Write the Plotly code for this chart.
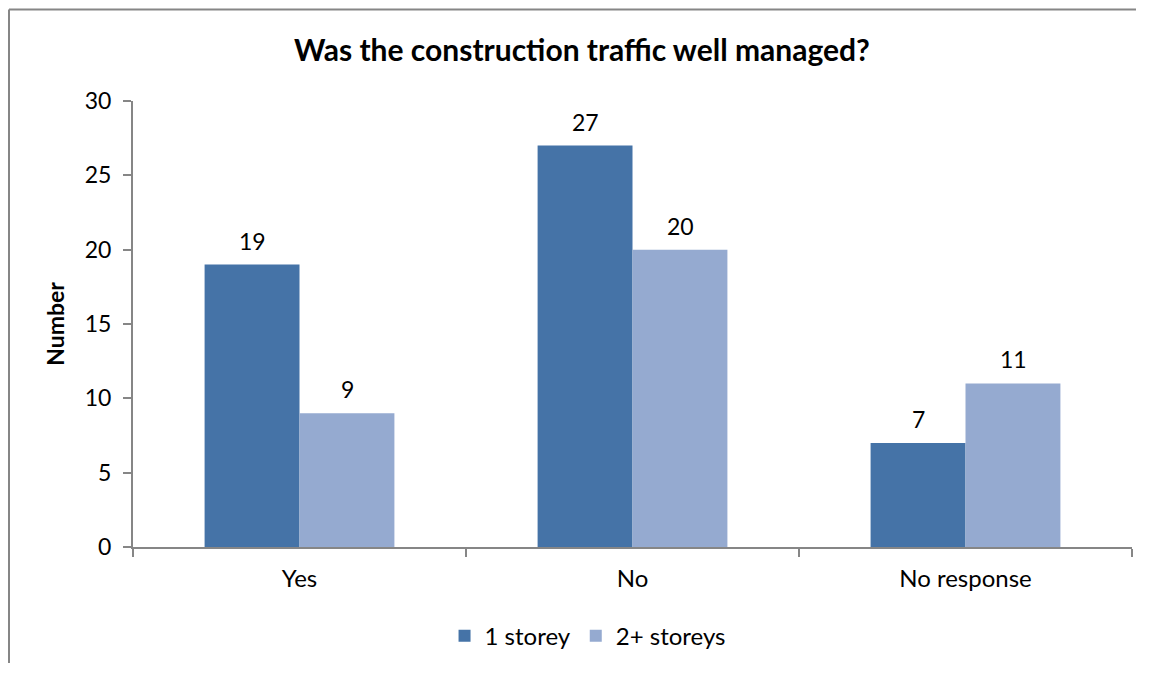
import plotly.graph_objects as go

categories = ["Yes", "No", "No response"]
one_storey = [19, 27, 7]
two_plus_storeys = [9, 20, 11]
series_names = ["1 storey", "2+ storeys"]
y_ticks = [0, 5, 10, 15, 20, 25, 30]

FONT = "Lato"
FS = 23
colors = ["#4573A7", "#95AAD0"]

fig = go.Figure()
for name, vals, col in zip(series_names, [one_storey, two_plus_storeys], colors):
    fig.add_trace(go.Bar(
        x=categories, y=vals, name=name,
        marker=dict(color=col, line=dict(width=0)),
    ))

# data labels above each bar
for vals, shift in [(one_storey, -47.5), (two_plus_storeys, 47.5)]:
    for c, v in zip(categories, vals):
        fig.add_annotation(x=c, y=v, xref="x", yref="y", text=str(v),
                           showarrow=False, xshift=shift, yshift=24,
                           yanchor="middle",
                           font=dict(family=FONT, size=FS, color="#000000"))

W, H = 1128, 655
fig.update_layout(
    width=W, height=H,
    margin=dict(l=125, r=W - 1124, t=93, b=H - 542),
    paper_bgcolor="white", plot_bgcolor="white",
    barmode="group", bargap=0.43, bargroupgap=0,
    title=dict(text="<b>Was the construction traffic well managed?</b>",
               xref="paper", x=0.4494, xanchor="center",
               yref="container", y=1 - 42 / H, yanchor="middle",
               font=dict(family=FONT, size=30, color="#000000")),
    font=dict(family=FONT, size=FS, color="#000000"),
    showlegend=True,
    legend=dict(orientation="h", x=0.455, xanchor="center", y=-0.2, yanchor="middle",
                font=dict(family=FONT, size=24, color="#000000"),
                traceorder="normal"),
)
fig.update_xaxes(
    type="category", showline=True, linecolor="#868686", linewidth=2,
    ticks="outside", tickson="boundaries", ticklen=8, tickcolor="#868686", tickwidth=2,
    showgrid=False, tickfont=dict(family=FONT, size=24, color="#000000"),
    ticklabelstandoff=9,
)
fig.update_yaxes(
    range=[0, 30], tickvals=y_ticks, showline=True, linecolor="#868686", linewidth=2,
    ticks="outside", ticklen=8, tickcolor="#868686", tickwidth=2,
    showgrid=False, zeroline=False,
    tickfont=dict(family=FONT, size=FS, color="#000000"),
    ticklabelstandoff=7,
    title=dict(text="<b>Number</b>", font=dict(family=FONT, size=23, color="#000000"), standoff=14),
)
# outer chart frame: only left and top edges are visible in the reference crop
frame_x = (1 - 125) / 999
frame_y = (542 - 1) / 449
fig.add_shape(type="line", xref="paper", yref="paper",
              x0=frame_x, x1=frame_x, y0=-0.5, y1=frame_y,
              line=dict(color="#868686", width=2), layer="below")
fig.add_shape(type="line", xref="paper", yref="paper",
              x0=frame_x, x1=1.2, y0=frame_y, y1=frame_y,
              line=dict(color="#868686", width=2), layer="below")

fig.write_html("out.html")
